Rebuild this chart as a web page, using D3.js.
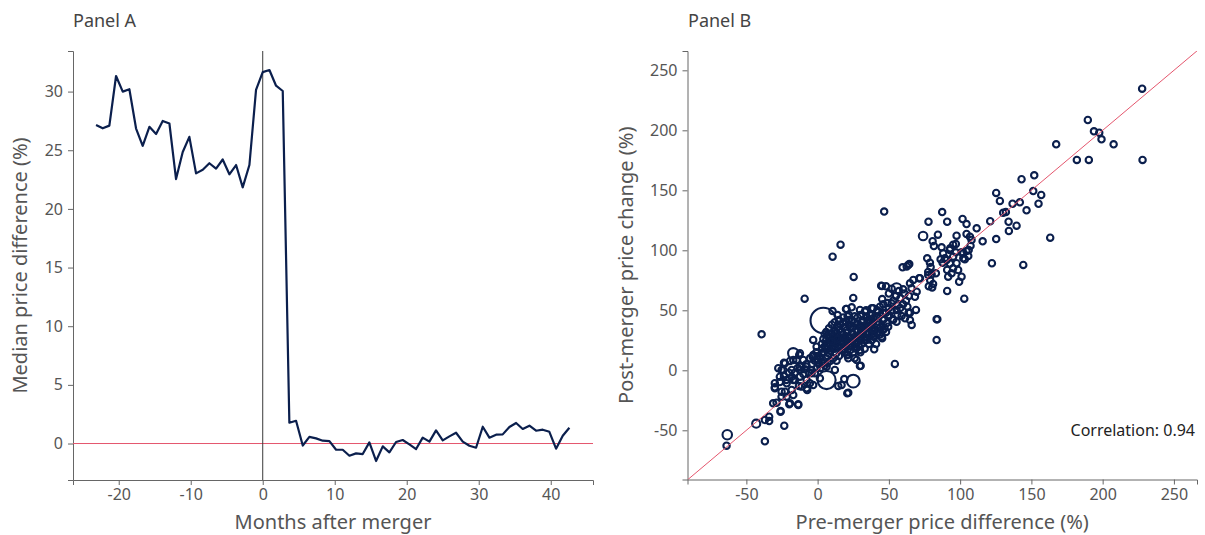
<!DOCTYPE html>
<html>
<head>
<meta charset="utf-8">
<script src="https://cdn.jsdelivr.net/npm/d3@7"></script>
<style>
  body { margin: 0; background: #fff; }
  svg text { font-family: "Noto Sans", "Open Sans", sans-serif; }
</style>
</head>
<body>
<svg id="chart" width="1205" height="535"></svg>
<script>
// ---- Panel A: median price difference around the merger date ----
const monthsAfter = [
  -23.15, -22.22, -21.30, -20.37, -19.44, -18.52, -17.59, -16.67, -15.74, -14.81,
  -13.89, -12.96, -12.04, -11.11, -10.19, -9.26, -8.33, -7.41, -6.48, -5.56,
  -4.63, -3.70, -2.78, -1.85, -0.93, 0, 0.93, 1.85, 2.78, 3.70,
  4.63, 5.56, 6.48, 7.41, 8.33, 9.26, 10.19, 11.11, 12.04, 12.96,
  13.89, 14.81, 15.74, 16.67, 17.59, 18.52, 19.44, 20.37, 21.30, 22.22,
  23.15, 24.07, 25.00, 25.93, 26.85, 27.78, 28.70, 29.63, 30.56, 31.48,
  32.41, 33.33, 34.26, 35.19, 36.11, 37.04, 37.96, 38.89, 39.81, 40.74,
  41.67, 42.59
];
const medianPriceDiff = [
  27.15, 26.87, 27.10, 31.33, 30.00, 30.20, 26.85, 25.38, 27.00, 26.38,
  27.50, 27.28, 22.54, 24.85, 26.14, 23.03, 23.33, 23.89, 23.43, 24.21,
  22.95, 23.74, 21.84, 23.74, 30.14, 31.66, 31.84, 30.50, 30.05, 1.77,
  1.94, -0.17, 0.56, 0.44, 0.24, 0.21, -0.53, -0.53, -1.04, -0.84,
  -0.90, 0.10, -1.49, -0.24, -0.75, 0.13, 0.30, -0.07, -0.47, 0.50,
  0.16, 1.12, 0.27, 0.61, 0.92, 0.16, -0.19, -0.36, 1.43, 0.50,
  0.75, 0.78, 1.41, 1.75, 1.24, 1.52, 1.09, 1.18, 1.00, -0.44,
  0.66, 1.35
];
const ticksA_x = [-20, -10, 0, 10, 20, 30, 40];
const ticksA_y = [0, 5, 10, 15, 20, 25, 30];

// ---- Panel B: pre-merger difference vs post-merger change, one circle per deal ----
// [pre-merger difference, post-merger change, deal weight]
const dealPoints = [
  [227.7,234.7,1],[189.6,208.6,1],[193.9,199.2,1],[197.6,198,1],[199.2,192.5,1],[207.7,188.3,1],[167.4,188.3,1],[181.9,175.3,1],[190.3,175.3,1],[228,175.3,1],
  [143.1,159.2,1],[152,162.5,1],[125.3,147.8,1],[127.9,141.1,1],[151.3,149.4,1],[156.9,146.1,1],[155,138.8,1],[136.8,138.8,1],[141.9,140,1],[146.6,133.3,1],
  [130.2,131.3,1],[132.1,131.9,1],[121.1,124.2,1],[134,123.8,1],[139.6,120.5,1],[134.2,116.1,1],[163.2,110.5,1],[125.3,109.4,1],[115.8,107.5,1],[111.6,118.3,1],
  [122.3,89.2,1],[144.3,87.8,1],[87.4,131.9,1],[90.9,123.8,1],[101.7,126.1,1],[104.5,121.9,1],[97.5,112.2,1],[84.4,113,1],[104.5,113.6,1],[106.9,111.3,1],
  [108,108.6,1],[80.7,107.6,1],[97,105.3,1],[107.3,103.8,1],[106,100.3,1],[102.2,97.5,1],[92.8,100.3,1],[88.1,97.5,1],[89.3,93.3,1],[95.1,94.7,1],
  [102.2,93.3,1],[77.8,123.8,1],[46.7,132.3,1],[74,111.9,1.8],[81.6,103.6,1],[76.9,93.3,1],[78.8,89.7,1],[64.3,88.6,1],[59.6,85.8,1],[16.1,104.7,1],
  [10.5,94.7,1],[87,102.5,1],[93,101.7,1],[95.1,104.7,1],[97,98.3,1],[101,98.3,1],[104.5,99.4,1],[105.7,95.2,1],[103.3,92.5,1],[90.5,91.9,1],
  [92.8,89,1],[87.7,89.7,1],[86.3,92.5,1],[79.3,86,1],[77.6,82,1],[97.5,89.2,1],[95.1,85,1],[90.9,83.6,1],[94,80.8,1],[91.6,78,1],
  [98.6,83.6,1],[101,78,1],[99.3,73.8,1],[83,80.8,1],[90.9,66.1,1],[102.9,59.7,1],[84,42.6,1],[83.5,25.2,1],[45.1,70.3,1],[60,67.5,1],
  [67.1,75.3,1],[64.8,72.5,1],[65.9,68.3,1],[69.5,65.5,1],[68.3,61.3,1],[71.8,76.7,1],[62.5,86.5,1],[69,50.3,1],[66,37.8,1],[80,80,1],
  [79,75,1],[81,72,1],[78,70,1],[80.4,69.1,1],[77.6,79.4,1],[71.3,76.7,1],[83.5,42.5,1],[63.6,87.7,1],
  [48,70,1],[52,68,1],[50,64,1],[55,62,1],[58,60,1],[62,58,1],[57,66,1],[61,64,1],[64,62,1],[53,58,1],
  [49,56,1],[56,54,1],[60,55,1],[63,53,1],[55.4,68.3,2.5],[44.6,70.5,1],[45.3,59.4,1],
  [39,51.7,1],[42.5,48.9,1],[46,47.5,1],[49.5,44.7,1],[53,42.5,1],[55.4,40.5,1],[58.9,45.2,1],[61.3,43.3,1],[64.8,41.9,1],[64.8,48,1],[63.8,48,1],
  [-39.3,30,1],[-63.4,-53.7,2.2],[-63.9,-62.8,1],[-43.1,-44.5,1.6],[-37,-59.2,1],[-34,-42.3,1],[-23.4,-46.2,1],[-9.1,59.7,1],[25.3,77.8,1],[25,60.3,1],
  [10.5,49.4,1],[20.3,51.1,1],[54.2,5.3,1],[39.7,17.5,1],[45.3,26.7,1],[4,41.5,16],[6.3,-8.1,8],[25,-9,4],[21.5,-18.7,1],[14.5,-13.1,1],
  [18.7,-7.3,1],[30.2,3.8,1],[39,28,1],
  [-30,-10.8,1],[-30,-14.2,1],[-26.5,-9.8,1],[-23.6,-4.8,1],[-25.3,0.3,1],[-18.2,-5.3,1],[-19.4,7.8,1],[-23.6,6.3,1],[-12.9,12.8,1],[-17.1,8.6,1],
  [-12.4,3,1],[-15.9,-8.1,1],[-13.1,-13.1,1],[-17.1,-20.6,1],[-19.9,-28.3,1],[-13.6,-28.3,1],[-28.8,-27,1],[-26,-33.9,1],[-25.3,-22,1],[-22.9,-17.8,1],
  [-7.3,-16.4,1],[-3.1,-12.3,1],[1.6,-6.7,1],[-4.2,-2.5,1],[-8.9,0.8,1],[-0.7,1.7,1],[6.3,3,1],[-3.5,11.3,1],[1.6,11.3,1],[12.1,0.3,1],
  [13.3,8,1],[6.3,22.5,1],[-3.1,25.3,1],[9.8,30.8,1],[13.3,25.3,1],[20.3,19.7,1],[29.7,16.9,1],[21.5,10,1],[27.4,8.6,1],[34.4,25.3,1],
  [37.9,35,1],[29.7,36.4,1],[21.5,41.9,1],[34.4,44.7,1],[41.4,44.7,1],[48.4,39.2,1],[53,41.9,1],[43.7,53,1],[55.4,50.3,1],[51.9,55.8,1],
  [49.5,36.4,1],[46,33.6,1],[34.4,36.4,1],[41.4,30.8,1],
  [19.9,51.1,1],[23.9,52.5,1],[29.7,50.3,1],[33.2,48.9,1],[37.9,51.7,1],[36.7,46.1,1],[39,43.3,1],[20.8,12.5,1],[29.7,3.6,1],[16.8,-12.3,1],
  [20.8,-19.2,1],[-0.7,19.7,1],[2.8,14.2,1],[0.4,8.6,1],[-3.1,12.8,1],[-5.4,10,1],[-10.1,8.6,1],[-7.7,3,1],[-4.2,0.3,1],[-1.9,-2.5,1],
  [-12.4,14.2,1],[-14.7,8.6,1],[-18.2,0.3,1],[-22.9,5.8,1],[-24.1,0.3,1],[-27.6,1.7,1],[-26.5,-5.3,1],[-30,-15,1],[-25.3,-17.8,1],[-21.7,-22,1],
  [-18.2,-16.4,1],[-21.7,-10.8,1],[-17.1,-8.1,1],[-12.4,0.3,1],[-12.4,-5.3,1],[-7.7,-8.1,1],[-5.4,-10.8,1],[-7.7,-15,1],[-11.2,-13.6,1],[-13.6,-28.9,1],
  [-19.4,-27.5,1],[-26,-34.5,1],[-31.2,-27.5,1],[-34,-38.7,1],[-37,-41.4,1],[-17.1,14.2,2.6],
  [5,20,1],[8,22,1],[10,18,1],[12,25,1],[14,20,1],[15,28,1],[16,24,1],[18,30,1],[18,22,1],[20,26,1],
  [20,33,1],[22,28,1],[22,20,1],[24,31,1],[24,24,1],[25,36,1],[26,28,1],[27,22,1],[28,33,1],[28,38,1],
  [30,30,1],[30,25,1],[31,40,1],[32,34,1],[33,28,1],[34,38,1],[35,32,1],[36,42,1],[37,36,1],[38,30,1],
  [39,40,1],[40,34,1],[10,30,1],[12,33,1],[14,36,1],[16,38,1],[8,28,1],[6,25,1],[4,15,1],[7,12,1],
  [9,16,1],[11,10,1],[13,14,1],[15,12,1],[17,17,1],[19,15,1],[21,13,1],[23,17,1],[25,15,1],[27,18,1],
  [29,20,1],[31,22,1],[33,25,1],[35,27,1],[12,40,1],[15,42,1],[18,44,1],[20,40,1],[22,38,1],[24,42,1],
  [26,45,1],[14,46,1],[10,38,1],[2,10,1],[3,18,1],[1,5,1],[0,12,1],[-2,8,1],[-1,15,1],[4,26,1],
  [6,32,1],[8,35,1],[19,36,1],[21,45,1],[23,35,1],[17,27,1],[13,22,1],[11,21,1],[9,8,1],[5,4,1],
  [7,6,1],[26,10,1],[30,15,1],[33,18,1],[36,22,1],[38,25,1],[40,28,1],[42,32,1],[44,36,1],[41,22,1],
  [45,28,1],[47,35,1],[43,40,1],[46,42,1],[48,48,1],
  [3,22,1],[5,30,1],[7,18,1],[9,25,1],[11,28,1],[13,31,1],[15,34,1],[17,32,1],[19,28,1],[21,24,1],
  [23,27,1],[25,30,1],[27,34,1],[29,28,1],[31,31,1],[33,36,1],[35,39,1],[37,41,1],[16,20,1],[18,18,1],
  [20,22,1],[22,24,1],[24,20,1],[26,26,1],[28,24,1],[30,35,1],[32,42,1],[14,26,1],[12,18,1],[10,24,1],
  [8,14,1],[6,10,1],[4,6,1],[2,2,1],[-4,5,1],[-6,-2,1],[-8,5,1],[-10,-3,1],[-14,2,1],[-16,-2,1],
  [-20,-2,1],[-22,-8,1],[18,40,1],[22,46,1],[28,44,1],[26,40,1],[30,46,1],[34,50,1],[38,46,1],[42,50,1],
  [44,46,1],[46,55,1],[50,52,1],[50,46,1],[52,50,1],[56,46,1],[58,52,1],[42,38,1],[44,30,1],[48,32,1],
  [36,30,1],[39,34,1]
];
const ticksB = [-50, 0, 50, 100, 150, 200, 250];
const correlationText = "Correlation: 0.94";

const navy = "#0b1f4d";
const red = "#e4566d";
const textGrey = "#555";
const axisGrey = "#666";
const fmt = d => String(d);

const svg = d3.select("#chart");

function styleAxis(g) {
  g.select(".domain").attr("stroke", axisGrey).attr("stroke-width", 1);
  g.selectAll(".tick line").attr("stroke", axisGrey);
  g.selectAll(".tick text").attr("fill", textGrey).style("font-size", "16px");
}

// ---------- Panel A ----------
const A = { left: 73, right: 593, top: 51, bottom: 480 };
const xA = d3.scaleLinear().domain([-26.35, 45.87]).range([A.left, A.right]);
const yA = d3.scaleLinear().domain([-3.11, 33.46]).range([A.bottom, A.top]);

svg.append("g")
  .attr("transform", `translate(0,${A.bottom})`)
  .call(d3.axisBottom(xA).tickValues(ticksA_x).tickFormat(fmt).tickSize(5).tickPadding(4))
  .call(styleAxis);
svg.append("g")
  .attr("transform", `translate(${A.left},0)`)
  .call(d3.axisLeft(yA).tickValues(ticksA_y).tickFormat(fmt).tickSize(5).tickPadding(5))
  .call(styleAxis);

// zero reference and merger date
svg.append("line")
  .attr("x1", A.left).attr("x2", A.right)
  .attr("y1", yA(0)).attr("y2", yA(0))
  .attr("stroke", red).attr("stroke-width", 1);
svg.append("line")
  .attr("x1", xA(0)).attr("x2", xA(0))
  .attr("y1", A.top).attr("y2", A.bottom)
  .attr("stroke", "#3a3a3a").attr("stroke-width", 1);

const seriesA = monthsAfter.map((m, i) => ({ m, v: medianPriceDiff[i] }));
svg.append("path")
  .datum(seriesA)
  .attr("fill", "none")
  .attr("stroke", navy)
  .attr("stroke-width", 2.2)
  .attr("stroke-linejoin", "round")
  .attr("d", d3.line().x(d => xA(d.m)).y(d => yA(d.v)));

svg.append("text").attr("x", A.left).attr("y", 27)
  .attr("fill", "#444").style("font-size", "18px").text("Panel A");
svg.append("text").attr("x", (A.left + A.right) / 2).attr("y", 529)
  .attr("text-anchor", "middle").attr("fill", textGrey).style("font-size", "20px")
  .text("Months after merger");
svg.append("text")
  .attr("transform", `translate(27,${(A.top + A.bottom) / 2}) rotate(-90)`)
  .attr("text-anchor", "middle").attr("fill", textGrey).style("font-size", "20px")
  .text("Median price difference (%)");

// ---------- Panel B ----------
const B = { left: 687.5, right: 1197, top: 51, bottom: 479.5 };
const xB = d3.scaleLinear().domain([-91.3, 266.2]).range([B.left, B.right]);
const yB = d3.scaleLinear().domain([-91.0, 266.1]).range([B.bottom, B.top]);
const rB = d3.scaleSqrt().domain([0, 1]).range([0, 3.2]);

svg.append("g")
  .attr("transform", `translate(0,${B.bottom})`)
  .call(d3.axisBottom(xB).tickValues(ticksB).tickFormat(fmt).tickSize(5).tickPadding(4))
  .call(styleAxis);
svg.append("g")
  .attr("transform", `translate(${B.left},0)`)
  .call(d3.axisLeft(yB).tickValues(ticksB).tickFormat(fmt).tickSize(5).tickPadding(5))
  .call(styleAxis);

svg.append("clipPath").attr("id", "clipB")
  .append("rect").attr("x", B.left).attr("y", B.top)
  .attr("width", B.right - B.left).attr("height", B.bottom - B.top);

svg.append("g").attr("clip-path", "url(#clipB)")
  .selectAll("circle")
  .data(dealPoints)
  .join("circle")
  .attr("cx", d => xB(d[0]))
  .attr("cy", d => yB(d[1]))
  .attr("r", d => rB(d[2]))
  .attr("fill", "none")
  .attr("stroke", navy)
  .attr("stroke-width", 2.1);

// 45-degree line: equal pre-merger difference and post-merger change
svg.append("line").attr("clip-path", "url(#clipB)")
  .attr("x1", xB(-91.3)).attr("y1", yB(-91.3))
  .attr("x2", xB(266.2)).attr("y2", yB(266.2))
  .attr("stroke", red).attr("stroke-width", 1);

svg.append("text").attr("x", 1195).attr("y", 436)
  .attr("text-anchor", "end").attr("fill", "#222").style("font-size", "16px")
  .text(correlationText);

svg.append("text").attr("x", 688).attr("y", 27)
  .attr("fill", "#444").style("font-size", "18px").text("Panel B");
svg.append("text").attr("x", (B.left + B.right) / 2).attr("y", 529)
  .attr("text-anchor", "middle").attr("fill", textGrey).style("font-size", "20px")
  .text("Pre-merger price difference (%)");
svg.append("text")
  .attr("transform", `translate(633,${(B.top + B.bottom) / 2}) rotate(-90)`)
  .attr("text-anchor", "middle").attr("fill", textGrey).style("font-size", "20px")
  .text("Post-merger price change (%)");
</script>
</body>
</html>
